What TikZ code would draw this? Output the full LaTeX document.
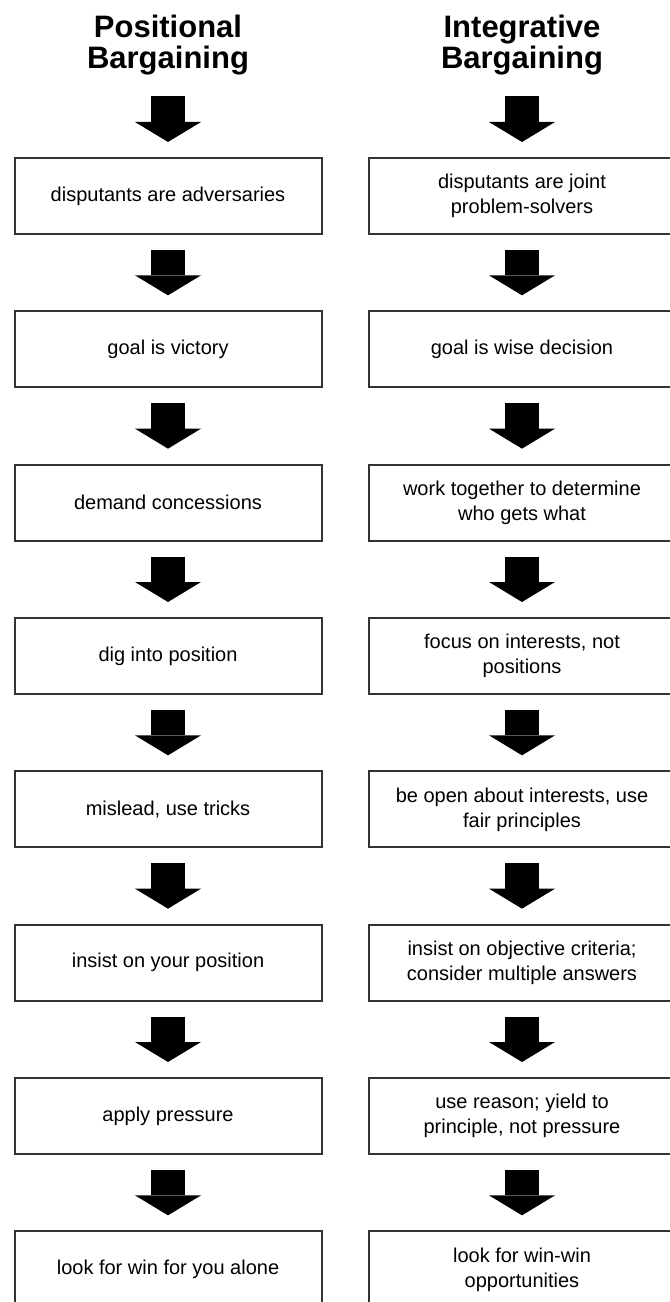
\documentclass[tikz,border=0pt]{standalone}
\usepackage{fontspec}
\setmainfont{Liberation Sans}
\usetikzlibrary{positioning,arrows.meta}

\begin{document}
\begin{tikzpicture}[x=0.75pt,y=-0.75pt,node distance=115pt,
    box/.style={draw=black!80,line width=1.5pt,minimum width=230.25pt,minimum height=57pt,inner sep=0pt,align=center,font=\fontsize{15pt}{18.75pt}\selectfont},
    head/.style={inner sep=0pt,align=center,font=\fontsize{23.25pt}{23.25pt}\selectfont\bfseries},
    bigarrow/.style={line width=25.5pt,-{Triangle[length=15pt,width=49.5pt,line width=0pt]},shorten <=11.25pt,shorten >=11.25pt}]
            \clip (0,0) rectangle (670,1302);

            \node[box] (p1) at (168,196) {disputants are adversaries};
            \node[box] (p2) [below of = p1] {goal is victory};
            \node[box] (p3) [below of = p2] {demand concessions};
            \node[box] (p4) [below of = p3] {dig into position};
            \node[box] (p5) [below of = p4] {mislead, use tricks};
            \node[box] (p6) [below of = p5] {insist on your position};
            \node[box] (p7) [below of = p6] {apply pressure};
            \node[box] (p8) [below of = p7] {look for win for you alone};
            \node[head] (pos) [above of = p1, yshift = -1.5pt] {Positional\\Bargaining};

            \node[box] (i1) [right of = p1, xshift = 150.5pt] {disputants are joint\\problem-solvers};
            \node[box] (i2) [below of = i1] {goal is wise decision};
            \node[box] (i3) [below of = i2] {work together to determine\\who gets what};
            \node[box] (i4) [below of = i3] {focus on interests, not\\positions};
            \node[box] (i5) [below of = i4] {be open about interests, use\\fair principles};
            \node[box] (i6) [below of = i5] {insist on objective criteria;\\consider multiple answers};
            \node[box] (i7) [below of = i6] {use reason; yield to\\principle, not pressure};
            \node[box] (i8) [below of = i7] {look for win-win\\opportunities};
            \node[head] (int) [above of = i1, yshift = -1.5pt] {Integrative\\Bargaining};

            \path[bigarrow]
                (pos) edge[shorten <=16.1pt] (p1)
                (p1) edge (p2)
                (p2) edge (p3)
                (p3) edge (p4)
                (p4) edge (p5)
                (p5) edge (p6)
                (p6) edge (p7)
                (p7) edge (p8)

                (int) edge[shorten <=16.1pt] (i1)
                (i1) edge (i2)
                (i2) edge (i3)
                (i3) edge (i4)
                (i4) edge (i5)
                (i5) edge (i6)
                (i6) edge (i7)
                (i7) edge (i8)
                ;
        \end{tikzpicture}
\end{document}
